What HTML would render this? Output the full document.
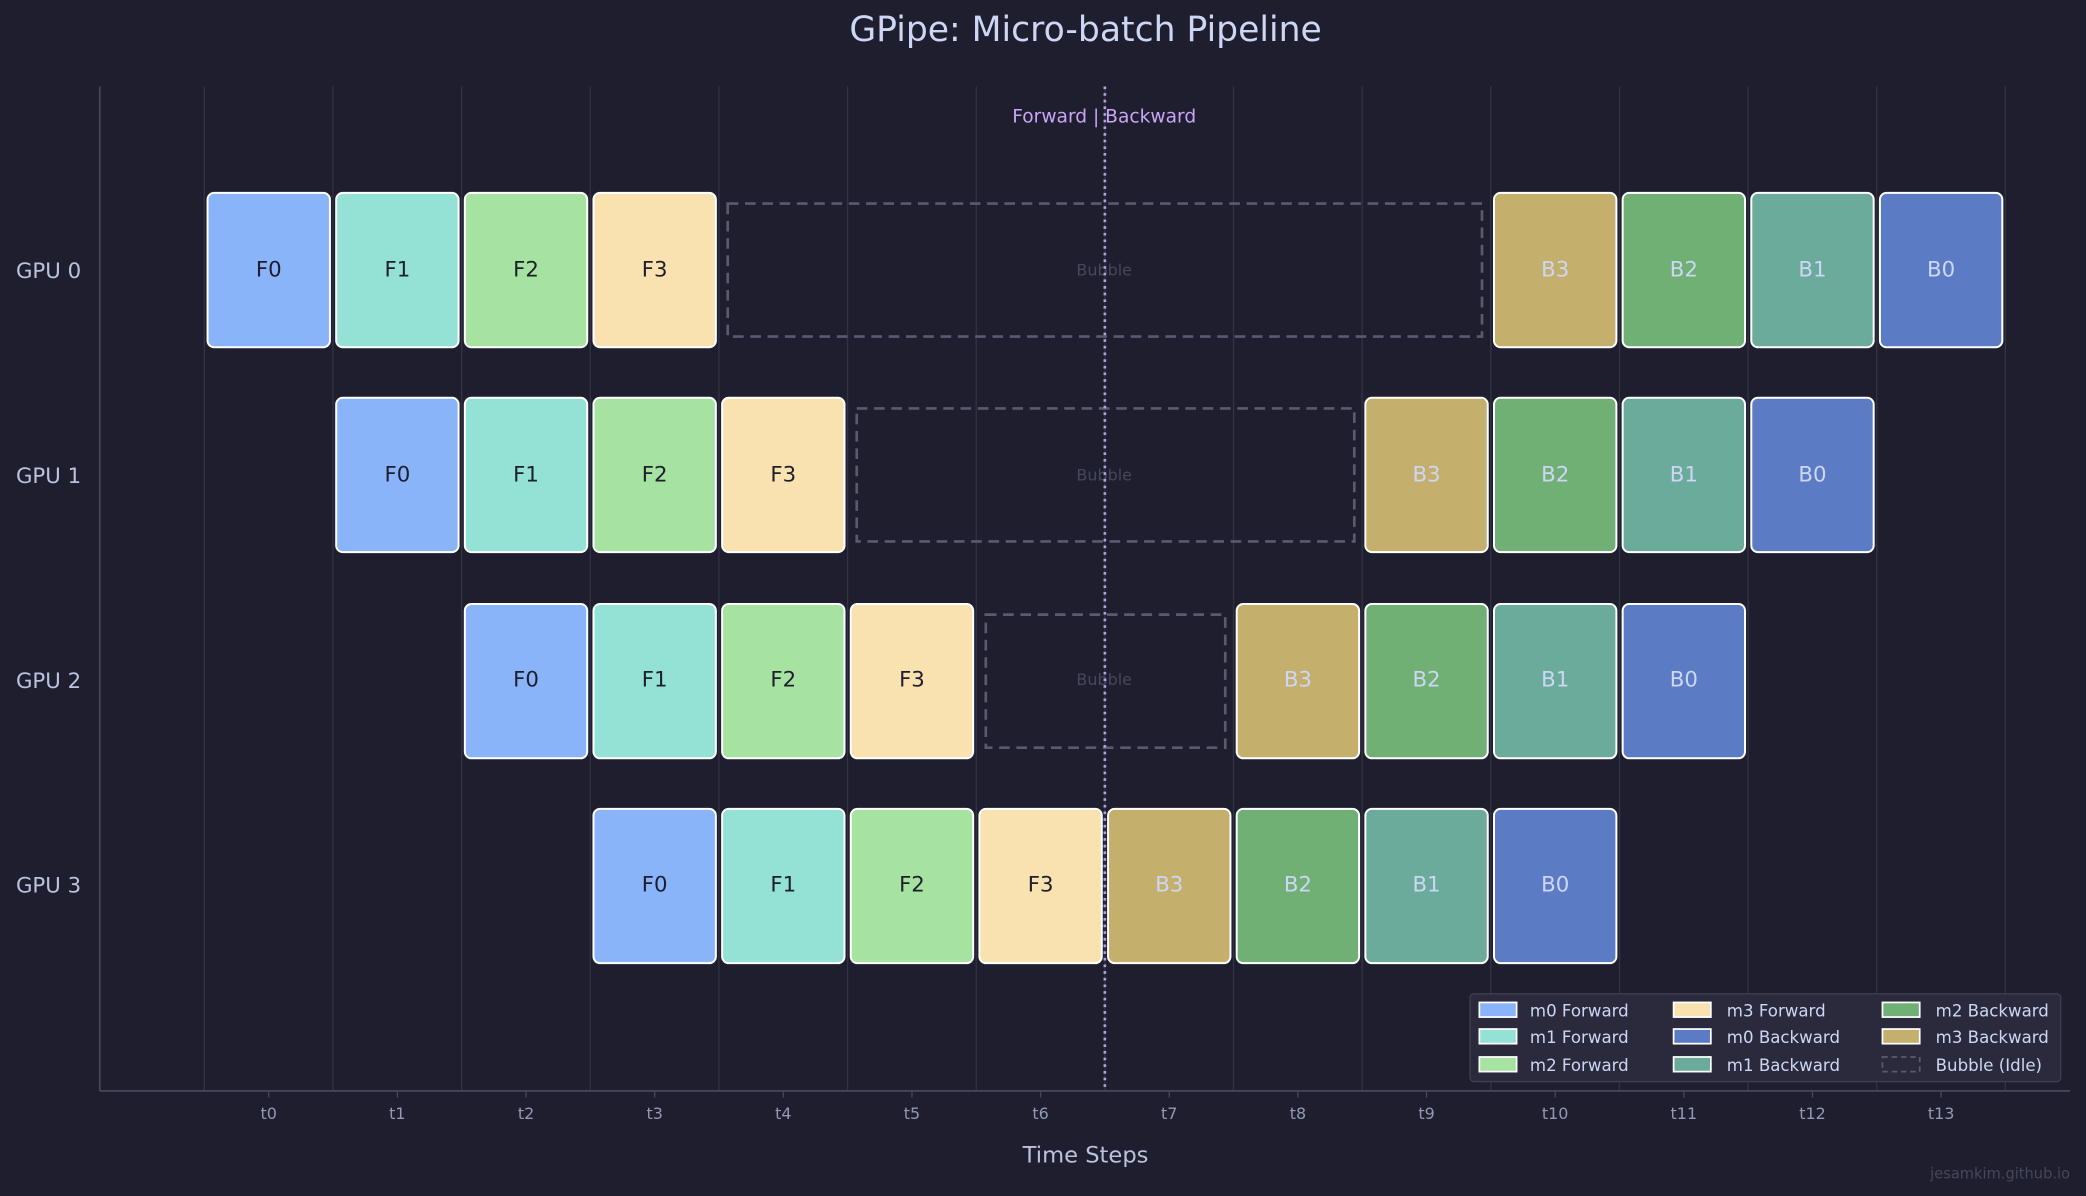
<!DOCTYPE html>
<html><head><meta charset="utf-8"><style>
html,body{margin:0;padding:0;background:#1e1e2e;}
svg{display:block;}
text{font-family:"DejaVu Sans","Liberation Sans",sans-serif;}
</style></head><body>
<svg width="2086" height="1196" viewBox="0 0 1568 899" xmlns="http://www.w3.org/2000/svg">
<rect width="1568" height="899" fill="#1e1e2e"/>
<text x="816" y="31" font-size="26" fill="#cdd6f4" text-anchor="middle">GPipe: Micro-batch Pipeline</text>
<g stroke="#313244" stroke-width="1">
<line x1="153.6" y1="65" x2="153.6" y2="820"/><line x1="250.3" y1="65" x2="250.3" y2="820"/>
<line x1="347" y1="65" x2="347" y2="820"/><line x1="443.7" y1="65" x2="443.7" y2="820"/>
<line x1="540.4" y1="65" x2="540.4" y2="820"/><line x1="637.1" y1="65" x2="637.1" y2="820"/>
<line x1="733.8" y1="65" x2="733.8" y2="820"/><line x1="830.5" y1="65" x2="830.5" y2="820"/>
<line x1="927.2" y1="65" x2="927.2" y2="820"/><line x1="1023.9" y1="65" x2="1023.9" y2="820"/>
<line x1="1120.6" y1="65" x2="1120.6" y2="820"/><line x1="1217.3" y1="65" x2="1217.3" y2="820"/>
<line x1="1314" y1="65" x2="1314" y2="820"/><line x1="1410.7" y1="65" x2="1410.7" y2="820"/>
<line x1="1507.4" y1="65" x2="1507.4" y2="820"/>
</g>
<g stroke="#45475a" stroke-width="1.3"><line x1="75" y1="65" x2="75" y2="820"/><line x1="75" y1="820" x2="1556" y2="820"/></g>
<!-- bubbles -->
<g fill="none" stroke="#585b70" stroke-width="2" stroke-dasharray="8,5">
<rect x="547" y="153" width="567" height="100"/>
<rect x="644" y="307" width="374" height="100"/>
<rect x="741" y="462" width="180" height="100"/>
</g>
<g font-size="12" fill="#45475a" text-anchor="middle">
<text x="830" y="207">Bubble</text><text x="830" y="361">Bubble</text><text x="830" y="515">Bubble</text>
</g>
<line x1="830.5" y1="65" x2="830.5" y2="820" stroke="#b4a0e0" stroke-width="2" stroke-dasharray="2,3"/>
<text x="830" y="92" font-size="14" fill="#cba6f7" text-anchor="middle">Forward | Backward</text>
<g stroke="#ffffff" stroke-width="1.5">
<!-- GPU0 -->
<rect x="156" y="145" width="92" height="116" rx="5" fill="#89b4fa"/>
<rect x="252.7" y="145" width="92" height="116" rx="5" fill="#94e2d5"/>
<rect x="349.4" y="145" width="92" height="116" rx="5" fill="#a6e3a1"/>
<rect x="446.1" y="145" width="92" height="116" rx="5" fill="#f9e2af"/>
<rect x="1123" y="145" width="92" height="116" rx="5" fill="#c4b06c"/>
<rect x="1219.7" y="145" width="92" height="116" rx="5" fill="#70b075"/>
<rect x="1316.4" y="145" width="92" height="116" rx="5" fill="#6aab9b"/>
<rect x="1413.1" y="145" width="92" height="116" rx="5" fill="#5b7cc4"/>
<!-- GPU1 -->
<rect x="252.7" y="299" width="92" height="116" rx="5" fill="#89b4fa"/>
<rect x="349.4" y="299" width="92" height="116" rx="5" fill="#94e2d5"/>
<rect x="446.1" y="299" width="92" height="116" rx="5" fill="#a6e3a1"/>
<rect x="542.8" y="299" width="92" height="116" rx="5" fill="#f9e2af"/>
<rect x="1026.3" y="299" width="92" height="116" rx="5" fill="#c4b06c"/>
<rect x="1123" y="299" width="92" height="116" rx="5" fill="#70b075"/>
<rect x="1219.7" y="299" width="92" height="116" rx="5" fill="#6aab9b"/>
<rect x="1316.4" y="299" width="92" height="116" rx="5" fill="#5b7cc4"/>
<!-- GPU2 -->
<rect x="349.4" y="454" width="92" height="116" rx="5" fill="#89b4fa"/>
<rect x="446.1" y="454" width="92" height="116" rx="5" fill="#94e2d5"/>
<rect x="542.8" y="454" width="92" height="116" rx="5" fill="#a6e3a1"/>
<rect x="639.5" y="454" width="92" height="116" rx="5" fill="#f9e2af"/>
<rect x="929.6" y="454" width="92" height="116" rx="5" fill="#c4b06c"/>
<rect x="1026.3" y="454" width="92" height="116" rx="5" fill="#70b075"/>
<rect x="1123" y="454" width="92" height="116" rx="5" fill="#6aab9b"/>
<rect x="1219.7" y="454" width="92" height="116" rx="5" fill="#5b7cc4"/>
<!-- GPU3 -->
<rect x="446.1" y="608" width="92" height="116" rx="5" fill="#89b4fa"/>
<rect x="542.8" y="608" width="92" height="116" rx="5" fill="#94e2d5"/>
<rect x="639.5" y="608" width="92" height="116" rx="5" fill="#a6e3a1"/>
<rect x="736.2" y="608" width="92" height="116" rx="5" fill="#f9e2af"/>
<rect x="832.9" y="608" width="92" height="116" rx="5" fill="#c4b06c"/>
<rect x="929.6" y="608" width="92" height="116" rx="5" fill="#70b075"/>
<rect x="1026.3" y="608" width="92" height="116" rx="5" fill="#6aab9b"/>
<rect x="1123" y="608" width="92" height="116" rx="5" fill="#5b7cc4"/>
</g>
<g font-size="16" text-anchor="middle" fill="#1e1e2e">
<text x="202" y="208">F0</text><text x="298.7" y="208">F1</text><text x="395.4" y="208">F2</text><text x="492.1" y="208">F3</text>
<text x="298.7" y="362">F0</text><text x="395.4" y="362">F1</text><text x="492.1" y="362">F2</text><text x="588.8" y="362">F3</text>
<text x="395.4" y="516">F0</text><text x="492.1" y="516">F1</text><text x="588.8" y="516">F2</text><text x="685.5" y="516">F3</text>
<text x="492.1" y="670">F0</text><text x="588.8" y="670">F1</text><text x="685.5" y="670">F2</text><text x="782.2" y="670">F3</text>
</g>
<g font-size="16" text-anchor="middle" fill="#cdd6f4">
<text x="1169" y="208">B3</text><text x="1265.7" y="208">B2</text><text x="1362.4" y="208">B1</text><text x="1459.1" y="208">B0</text>
<text x="1072.3" y="362">B3</text><text x="1169" y="362">B2</text><text x="1265.7" y="362">B1</text><text x="1362.4" y="362">B0</text>
<text x="975.6" y="516">B3</text><text x="1072.3" y="516">B2</text><text x="1169" y="516">B1</text><text x="1265.7" y="516">B0</text>
<text x="878.9" y="670">B3</text><text x="975.6" y="670">B2</text><text x="1072.3" y="670">B1</text><text x="1169" y="670">B0</text>
</g>
<g font-size="16" fill="#bac2de">
<text x="12" y="209">GPU 0</text><text x="12" y="363">GPU 1</text><text x="12" y="517">GPU 2</text><text x="12" y="671">GPU 3</text>
</g>
<g stroke="#45475a" stroke-width="1">
<line x1="202" y1="820" x2="202" y2="825"/><line x1="298.7" y1="820" x2="298.7" y2="825"/><line x1="395.4" y1="820" x2="395.4" y2="825"/><line x1="492.1" y1="820" x2="492.1" y2="825"/><line x1="588.8" y1="820" x2="588.8" y2="825"/><line x1="685.5" y1="820" x2="685.5" y2="825"/><line x1="782.2" y1="820" x2="782.2" y2="825"/><line x1="878.9" y1="820" x2="878.9" y2="825"/><line x1="975.6" y1="820" x2="975.6" y2="825"/><line x1="1072.3" y1="820" x2="1072.3" y2="825"/><line x1="1169" y1="820" x2="1169" y2="825"/><line x1="1265.7" y1="820" x2="1265.7" y2="825"/><line x1="1362.4" y1="820" x2="1362.4" y2="825"/><line x1="1459.1" y1="820" x2="1459.1" y2="825"/>
</g>
<g font-size="12" fill="#9399b2" text-anchor="middle">
<text x="202" y="841">t0</text><text x="298.7" y="841">t1</text><text x="395.4" y="841">t2</text><text x="492.1" y="841">t3</text><text x="588.8" y="841">t4</text><text x="685.5" y="841">t5</text><text x="782.2" y="841">t6</text><text x="878.9" y="841">t7</text><text x="975.6" y="841">t8</text><text x="1072.3" y="841">t9</text><text x="1169" y="841">t10</text><text x="1265.7" y="841">t11</text><text x="1362.4" y="841">t12</text><text x="1459.1" y="841">t13</text>
</g>
<text x="816" y="874" font-size="17" fill="#bac2de" text-anchor="middle">Time Steps</text>
<text x="1556" y="886" font-size="11" fill="#45475a" text-anchor="end">jesamkim.github.io</text>
<!-- legend -->
<rect x="1105" y="747" width="444" height="66" rx="3" fill="#2a2a3c" stroke="#3e3e52" stroke-width="1"/>
<g stroke="#ffffff" stroke-width="1.3">
<rect x="1112" y="753.5" width="28" height="11" fill="#89b4fa"/>
<rect x="1112" y="773.5" width="28" height="11" fill="#94e2d5"/>
<rect x="1112" y="794.5" width="28" height="11" fill="#a6e3a1"/>
<rect x="1258" y="753.5" width="28" height="11" fill="#f9e2af"/>
<rect x="1258" y="773.5" width="28" height="11" fill="#5b7cc4"/>
<rect x="1258" y="794.5" width="28" height="11" fill="#6aab9b"/>
<rect x="1415" y="753.5" width="28" height="11" fill="#70b075"/>
<rect x="1415" y="773.5" width="28" height="11" fill="#c4b06c"/>
</g>
<rect x="1415" y="794.5" width="28" height="11" fill="none" stroke="#585b70" stroke-width="1.3" stroke-dasharray="4,3"/>
<g font-size="12.5" fill="#cdd6f4">
<text x="1150" y="764">m0 Forward</text><text x="1150" y="784">m1 Forward</text><text x="1150" y="805">m2 Forward</text>
<text x="1298" y="764">m3 Forward</text><text x="1298" y="784">m0 Backward</text><text x="1298" y="805">m1 Backward</text>
<text x="1455" y="764">m2 Backward</text><text x="1455" y="784">m3 Backward</text><text x="1455" y="805">Bubble (Idle)</text>
</g>
</svg>
</body></html>
